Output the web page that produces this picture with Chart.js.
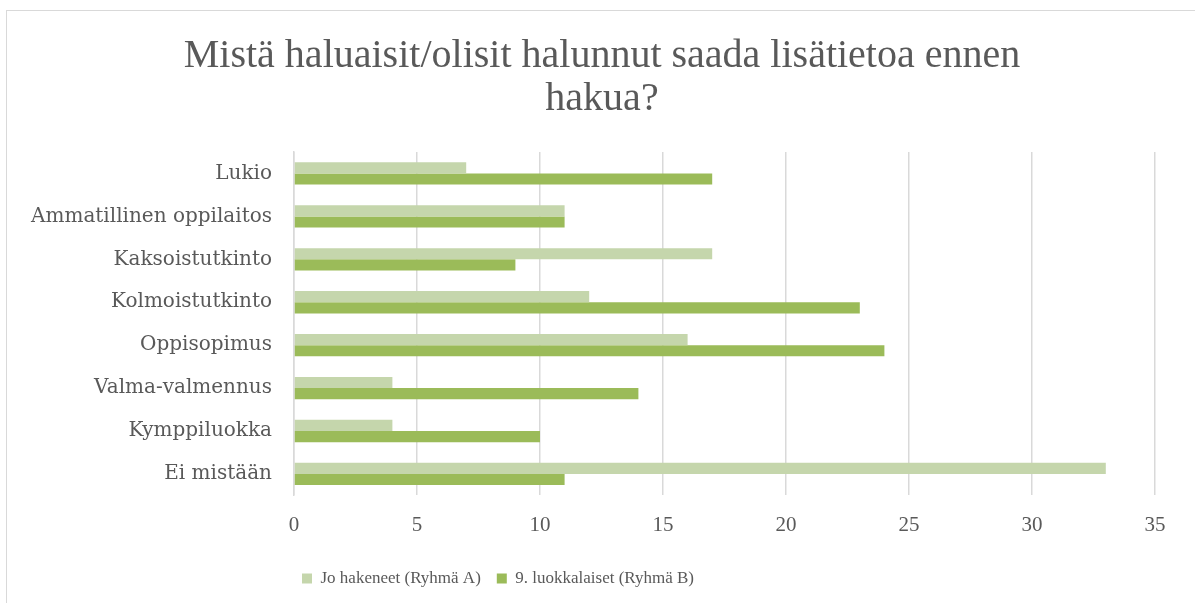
<!DOCTYPE html>
<html>
<head>
    <title>Mistä haluaisit/olisit halunnut saada lisätietoa ennen hakua?</title>
    <script src="https://cdn.jsdelivr.net/npm/chart.js"></script>
    <style>
        html, body {
            margin: 0;
            padding: 0;
            background: #ffffff;
            overflow: hidden;
        }
        .chart-wrap {
            position: relative;
            width: 1195px;
            height: 603px;
        }
        .frame {
            position: absolute;
            left: 6px;
            top: 10px;
            width: 1300px;
            height: 700px;
            border: 1.5px solid #d9d9d9;
            pointer-events: none;
        }
    </style>
</head>
<body>
    <div class="chart-wrap">
        <canvas id="barChart" width="1195" height="603"></canvas>
        <div class="frame"></div>
    </div>

    <script>
        // Data
        const categories = [
            'Lukio',
            'Ammatillinen oppilaitos',
            'Kaksoistutkinto',
            'Kolmoistutkinto',
            'Oppisopimus',
            'Valma-valmennus',
            'Kymppiluokka',
            'Ei mistään'
        ];
        const groupA = [7, 11, 17, 12, 16, 4, 4, 33];
        const groupB = [17, 11, 9, 23, 24, 14, 10, 11];
        const seriesNames = ['Jo hakeneet (Ryhmä A)', '9. luokkalaiset (Ryhmä B)'];
        const titleLines = ['Mistä haluaisit/olisit halunnut saada lisätietoa ennen', 'hakua?'];

        const textColor = '#595959';
        const gridColor = '#d9d9d9';

        // title is centred on the whole frame, legend sits left of centre (starts near x=302)
        const boxShift = {
            id: 'boxShift',
            afterLayout(chart) {
                chart.titleBlock.left = 0;
                chart.titleBlock.right = 1204;
                chart.legend.left = 286;
            }
        };

        const ctx = document.getElementById('barChart').getContext('2d');

        new Chart(ctx, {
            type: 'bar',
            data: {
                labels: categories,
                datasets: [
                    {
                        label: seriesNames[0],
                        data: groupA,
                        backgroundColor: '#c5d6ac',
                        categoryPercentage: 0.52,
                        barPercentage: 1.0
                    },
                    {
                        label: seriesNames[1],
                        data: groupB,
                        backgroundColor: '#9bbb59',
                        categoryPercentage: 0.52,
                        barPercentage: 1.0
                    }
                ]
            },
            options: {
                indexAxis: 'y',
                responsive: false,
                animation: false,
                layout: {
                    padding: { left: 0, right: 40, top: 0, bottom: 6 }
                },
                plugins: {
                    title: {
                        display: true,
                        text: titleLines,
                        color: textColor,
                        font: {
                            family: "'Liberation Serif', serif",
                            size: 40,
                            weight: 'normal',
                            lineHeight: 1.075
                        },
                        padding: { top: 35, bottom: 31 }
                    },
                    legend: {
                        position: 'bottom',
                        align: 'start',
                        labels: {
                            color: textColor,
                            boxWidth: 10,
                            boxHeight: 10,
                            padding: 16,
                            font: {
                                family: "'Liberation Serif', serif",
                                size: 17
                            }
                        }
                    },
                    tooltip: { enabled: false }
                },
                scales: {
                    x: {
                        min: 0,
                        max: 35,
                        ticks: {
                            stepSize: 5,
                            color: textColor,
                            padding: 17,
                            font: {
                                family: "'Liberation Serif', serif",
                                size: 21
                            }
                        },
                        grid: {
                            color: gridColor,
                            lineWidth: 1.5,
                            drawTicks: false
                        },
                        border: { display: false },
                        afterFit: function(scale) {
                            scale.height = 58.6;
                        }
                    },
                    y: {
                        ticks: {
                            color: textColor,
                            padding: 22,
                            font: {
                                family: "'DejaVu Serif', serif",
                                size: 20
                            }
                        },
                        grid: {
                            display: false,
                            drawTicks: false
                        },
                        border: {
                            display: true,
                            color: gridColor,
                            width: 1.5
                        },
                        afterFit: function(scale) {
                            scale.width = 294;
                        }
                    }
                }
            },
            plugins: [boxShift]
        });
    </script>
</body>
</html>
